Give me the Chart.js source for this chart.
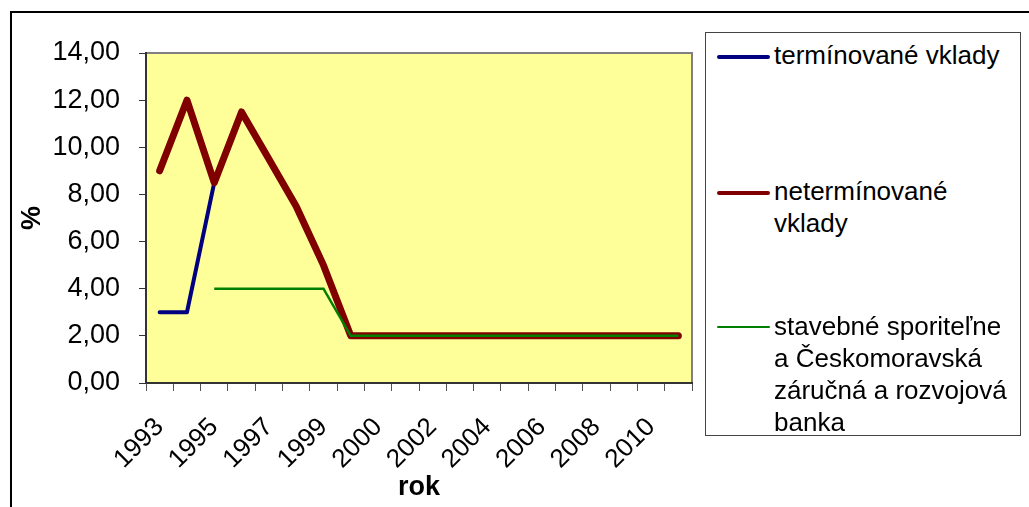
<!DOCTYPE html>
<html>
<head>
<meta charset="utf-8">
<script src="https://cdn.jsdelivr.net/npm/chart.js@4.4.0/dist/chart.umd.min.js"></script>
<style>
    body { margin: 0; background: #fff; font-family: "Liberation Sans", Arial, sans-serif; }
    #wrap { position: relative; width: 1029px; height: 507px; overflow: hidden; }
    #frame { position: absolute; left: 10px; top: 11px; width: 1100px; height: 600px;
             border-left: 2px solid #000; border-top: 2px solid #000; }
    #myChart { position: absolute; left: 0; top: 0; }
    #legend { position: absolute; left: 705px; top: 32px; width: 314px; height: 402px;
              border: 1px solid #444; background: #fff; }
    .item { position: absolute; left: 0; width: 314px; }
    .swatch { position: absolute; left: 11px; top: 22px; width: 53px; }
    .txt { position: absolute; left: 68px; top: 6px; width: 240px; font-size: 26px; line-height: 32px; color: #000; }
</style>
</head>
<body>
<div id="wrap">
    <div id="frame"></div>
    <canvas id="myChart" width="1029" height="507"></canvas>
    <div id="legend"></div>
</div>
<script>
// years on the x axis (only every other one gets a label)
let years = ["1993", "1994", "1995", "1996", "1997", "1998", "1999", "1999", "2000", "2001",
             "2002", "2003", "2004", "2005", "2006", "2007", "2008", "2009", "2010", "2011"];

let terminovane = [3.0, 3.0, 8.5, 11.5, 9.5, 7.5, 5.0, 2.0, 2.0, 2.0,
                   2.0, 2.0, 2.0, 2.0, 2.0, 2.0, 2.0, 2.0, 2.0, 2.0];
let neterminovane = [9.0, 12.0, 8.5, 11.5, 9.5, 7.5, 5.0, 2.0, 2.0, 2.0,
                     2.0, 2.0, 2.0, 2.0, 2.0, 2.0, 2.0, 2.0, 2.0, 2.0];
let stavebne = [null, null, 4.0, 4.0, 4.0, 4.0, 4.0, 2.0, 2.0, 2.0,
                2.0, 2.0, 2.0, 2.0, 2.0, 2.0, 2.0, 2.0, 2.0, 2.0];

let seriesNames = ["termínované vklady", "netermínované vklady",
                   "stavebné sporiteľne a Českomoravská záručná a rozvojová banka"];

const fontFamily = '"Liberation Sans", Arial, sans-serif';

// yellow plot area with grey top/right edge, like the old excel charts
const plotArea = {
    id: 'plotArea',
    beforeDraw(chart) {
        const a = chart.chartArea;
        const c = chart.ctx;
        c.save();
        c.fillStyle = '#FFFF99';
        c.fillRect(a.left, a.top, a.right - a.left, a.bottom - a.top);
        c.strokeStyle = '#808080';
        c.lineWidth = 2;
        c.beginPath();
        c.moveTo(a.left, a.top);
        c.lineTo(a.right, a.top);
        c.lineTo(a.right, a.bottom);
        c.stroke();
        c.restore();
    }
};

const chart = new Chart(document.getElementById('myChart'), {
    type: 'line',
    data: {
        labels: years,
        datasets: [{
            label: seriesNames[0],
            data: terminovane,
            borderColor: '#000080',
            borderWidth: 4,
            borderCapStyle: 'round',
            borderJoinStyle: 'round',
            pointRadius: 0,
            order: 3
        }, {
            label: seriesNames[1],
            data: neterminovane,
            borderColor: '#800000',
            borderWidth: 7,
            borderCapStyle: 'round',
            borderJoinStyle: 'round',
            pointRadius: 0,
            order: 2
        }, {
            label: seriesNames[2],
            data: stavebne,
            borderColor: '#008000',
            borderWidth: 2.5,
            pointRadius: 0,
            order: 1
        }]
    },
    options: {
        responsive: false,
        animation: false,
        devicePixelRatio: 1,
        layout: { padding: { left: 0, top: 53, right: 337, bottom: 0 } },
        plugins: {
            legend: { display: false },
            tooltip: { enabled: false }
        },
        scales: {
            x: {
                offset: true,
                afterFit(scale) { scale.height = 124; },
                grid: { offset: true, drawOnChartArea: false, drawTicks: true, tickLength: 8, tickColor: '#555' },
                border: { display: true, color: '#333', width: 2 },
                ticks: {
                    autoSkip: false,
                    maxRotation: 45,
                    minRotation: 45,
                    padding: 21,
                    color: '#000',
                    font: { family: fontFamily, size: 26 },
                    callback: function(value, index) {
                        return index % 2 === 0 ? years[index] : '';
                    }
                },
                title: {
                    display: true,
                    text: 'rok',
                    color: '#000',
                    padding: { top: 0, bottom: 3 },
                    font: { family: fontFamily, size: 27, weight: 'bold' }
                }
            },
            y: {
                min: 0,
                max: 14,
                afterFit(scale) { scale.width = 146; },
                grid: { drawOnChartArea: false, drawTicks: true, tickLength: 7, tickColor: '#333' },
                border: { display: true, color: '#333', width: 2 },
                ticks: {
                    stepSize: 2,
                    padding: 19,
                    color: '#000',
                    font: { family: fontFamily, size: 27 },
                    callback: function(value) {
                        return value.toFixed(2).replace('.', ',');
                    }
                },
                title: {
                    display: true,
                    text: '%',
                    color: '#000',
                    padding: { top: 16, bottom: 0 },
                    font: { family: fontFamily, size: 27, weight: 'bold' }
                }
            }
        }
    },
    plugins: [plotArea]
});

// legend box on the right, built from the datasets
let legendTops = [0, 136, 271];
let legend = document.getElementById('legend');
chart.data.datasets.forEach(function(ds, i) {
    let item = document.createElement('div');
    item.className = 'item';
    item.style.top = legendTops[i] + 'px';
    let sw = document.createElement('div');
    sw.className = 'swatch';
    sw.style.borderTop = (i === 2 ? 2 : 4) + 'px solid ' + ds.borderColor;
    sw.style.borderRadius = '2px';
    let txt = document.createElement('div');
    txt.className = 'txt';
    txt.textContent = ds.label;
    item.appendChild(sw);
    item.appendChild(txt);
    legend.appendChild(item);
});
</script>
</body>
</html>
